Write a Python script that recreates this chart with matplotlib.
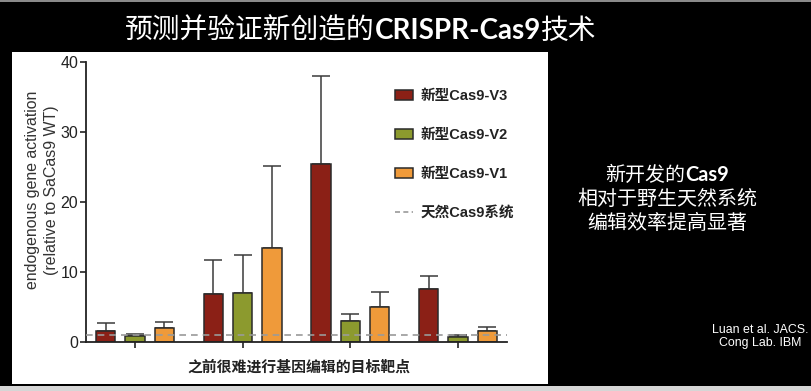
import numpy as np
import matplotlib
matplotlib.use("Agg")
import matplotlib.pyplot as plt
from matplotlib.patches import Rectangle, Patch
from matplotlib.lines import Line2D

# --- data ---
groups = 4
series = ["新型Cas9-V3", "新型Cas9-V2", "新型Cas9-V1"]
v3_mean = [1.6, 6.9, 25.4, 7.6]
v3_err = [1.1, 4.8, 12.6, 1.9]
v2_mean = [0.8, 7.0, 3.0, 0.67]
v2_err = [0.4, 5.5, 0.95, 0.35]
v1_mean = [2.0, 13.4, 4.95, 1.6]
v1_err = [0.9, 11.7, 2.15, 0.5]
wt_level = 1.0
wt_label = "天然Cas9系统"

y_ticks = [0, 10, 20, 30, 40]
x_label = "之前很难进行基因编辑的目标靶点"
y_label = ["endogenous gene activation", "(relative to SaCas9 WT)"]
title_parts = ["预测并验证新创造的", "CRISPR-Cas9", "技术"]
side_lines = [["新开发的", "Cas9"], ["相对于野生天然系统"], ["编辑效率提高显著"]]
credit = ["Luan et al. JACS.", "Cong Lab. IBM"]

colors = ["#8b2016", "#8c9a2e", "#ef9a3a"]
W, H = 811, 391

CJK = "Noto Sans CJK SC"
LAT = "Liberation Sans"

fig = plt.figure(figsize=(W / 100, H / 100), dpi=100)
fig.patch.set_facecolor("black")

def px(x, y):
    # pixel (from top-left) -> figure fraction
    return x / W, 1 - y / H

# slide decorations
fig.add_artist(Rectangle((12 / W, 1 - 384 / H), 536 / W, 332 / H,
                         transform=fig.transFigure, facecolor="white", edgecolor="none", zorder=0))
fig.add_artist(Rectangle((0, 1 - 1.5 / H), 1, 1.5 / H,
                         transform=fig.transFigure, facecolor="#8a8a8a", edgecolor="none", zorder=0))
fig.add_artist(Rectangle((0, 0), 1, 5 / H,
                         transform=fig.transFigure, facecolor="#d6d6d6", edgecolor="none", zorder=0))

# --- bar chart ---
ax = fig.add_axes([86 / W, 1 - 342 / H, 421 / W, 280 / H])
ax.set_facecolor("white")

x = np.arange(groups)
offsets = [-0.272, 0.0, 0.272]
width = 0.18
means = [v3_mean, v2_mean, v1_mean]
errs = [v3_err, v2_err, v1_err]
for off, m, e, c in zip(offsets, means, errs, colors):
    ax.bar(x + off, m, width, color=c, edgecolor="#2a2a2a", linewidth=1.1, zorder=2)
    ax.errorbar(x + off, m, yerr=[np.zeros(groups), e], fmt="none",
                ecolor="#3a3a3a", elinewidth=1.1, capsize=6.5, capthick=1.1, zorder=1)

ax.axhline(wt_level, color="#9a9a9a", linestyle=(0, (4, 3)), linewidth=1.2, zorder=3)

ax.set_xlim(-0.456, 3.456)
ax.set_ylim(0, 40)
ax.set_xticks(x)
ax.set_xticklabels([])
ax.set_yticks(y_ticks)
ax.set_yticklabels([str(t) for t in y_ticks], family=LAT, fontsize=11.5, color="#222222")
ax.tick_params(direction="out", length=4.5, width=1.2, color="#222222", pad=1)
for s in ["top", "right"]:
    ax.spines[s].set_visible(False)
for s in ["left", "bottom"]:
    ax.spines[s].set_linewidth(1.3)
    ax.spines[s].set_color("#222222")

handles = [Patch(facecolor=c, edgecolor="#2a2a2a", linewidth=1.1) for c in colors]
handles.append(Line2D([0], [0], color="#9a9a9a", linestyle=(0, (3, 2)), linewidth=1.2))
leg = ax.legend(handles, series + [wt_label], loc="upper left",
                bbox_to_anchor=(0.716, 0.93), frameon=False, borderpad=0,
                labelspacing=1.72, handlelength=1.25, handleheight=0.7, handletextpad=0.5,
                prop={"family": [LAT, CJK], "weight": "bold", "size": 10.5})
for t in leg.get_texts():
    t.set_color("#222222")

# axis labels
fig.text(*px(299, 367), x_label, family=[CJK], weight="bold", fontsize=10.7,
         color="#222222", ha="center", va="center")
fig.text(*px(33, 190), y_label[0], family=LAT, fontsize=11.4, color="#333333",
         rotation=90, ha="center", va="center")
fig.text(*px(52, 190), y_label[1], family=LAT, fontsize=11.4, color="#333333",
         rotation=90, ha="center", va="center")

# --- mixed-weight slide text ---
renderer = fig.canvas.get_renderer()

def mixed_line(parts, xc, yb, size):
    texts = []
    for s in parts:
        latin = all(ord(ch) < 128 for ch in s)
        t = fig.text(0, 1 - yb / H, s, fontsize=size, color="white", ha="left", va="baseline",
                     family=["Lato", CJK] if latin else [CJK],
                     weight="bold" if latin else "normal")
        texts.append(t)
    widths = [t.get_window_extent(renderer).width for t in texts]
    xpos = xc - sum(widths) / 2
    for t, w in zip(texts, widths):
        t.set_x(xpos / W)
        xpos += w

mixed_line(title_parts, 361, 39, 20)
for i, line in enumerate(side_lines):
    mixed_line(line, 667, 181 + i * 24, 14.4)

fig.text(*px(760, 330), credit[0], family=LAT, fontsize=8.9, color="white", ha="center", va="center")
fig.text(*px(760, 343), credit[1], family=LAT, fontsize=8.9, color="white", ha="center", va="center")

fig.savefig("out.png", dpi=100, facecolor=fig.get_facecolor())
